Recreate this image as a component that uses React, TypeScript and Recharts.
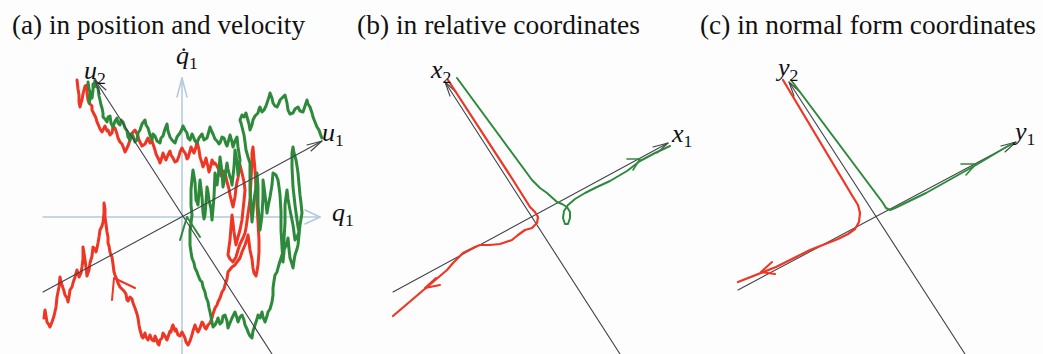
import React from 'react';
import { ScatterChart, Scatter, XAxis, YAxis } from 'recharts';

// ---------- coordinates: origin at each panel's axis crossing, x right, y up ----------
const Y_DOMAIN: [number, number] = [-137, 217];
const X_DOMAIN_A: [number, number] = [-182, 165];
const X_DOMAIN_B: [number, number] = [-185, 163];
const X_DOMAIN_C: [number, number] = [-183, 165];

const RED = '#ee3624';
const GREEN = '#2e8a3b';
const AXIS = '#3f4347';
const LIGHT = '#b2c9dc';

// ---- panel (a): position & velocity ----
const qAxisA = [[-139, 0], [138, 0]];
const qArrowA = [[123, 7], [138, 0], [123, -7]];
const qdotAxisA = [[0, -137], [0, 139]];
const qdotArrowA = [[-5, 120], [0, 139], [5, 120]];
const u1AxisA = [[-139, -75], [140, 76]];
const u1ArrowA = [[129, 66], [140, 76], [125, 72]];
const u2AxisA = [[-87, 137], [90, -137]];
const u2ArrowA = [[-76, 127], [-87, 137], [-82, 123]];

const redA = [
  [-105, 137], [-104, 128], [-103, 122], [-103, 115], [-102, 110], [-101, 114], [-100, 117], [-99, 123],
  [-98, 127], [-97, 131], [-95, 132], [-95, 124], [-94, 117], [-92, 113], [-90, 111], [-90, 107],
  [-89, 105], [-87, 101], [-86, 99], [-85, 95], [-84, 93], [-82, 88], [-80, 85], [-78, 89], [-77, 91],
  [-75, 86], [-74, 87], [-72, 82], [-70, 84], [-69, 90], [-67, 89], [-65, 83], [-64, 79], [-62, 75],
  [-60, 73], [-58, 68], [-57, 65], [-55, 69], [-54, 71], [-52, 77], [-51, 81], [-49, 85], [-47, 87],
  [-45, 83], [-44, 81], [-43, 77], [-42, 75], [-40, 71], [-37, 73], [-35, 77], [-34, 79], [-32, 74],
  [-30, 76], [-28, 70], [-27, 67], [-26, 63], [-25, 61], [-23, 57], [-22, 54], [-20, 60], [-19, 64],
  [-17, 59], [-16, 57], [-14, 62], [-12, 66], [-11, 62], [-9, 59], [-7, 55], [-5, 56], [-3, 61],
  [-2, 65], [0, 69], [1, 67], [3, 64], [4, 62], [5, 58], [6, 59], [8, 66], [9, 70], [11, 66], [12, 64],
  [14, 70], [15, 76], [17, 67], [18, 60], [20, 54], [21, 50], [23, 55], [24, 59], [26, 50], [27, 45],
  [29, 52], [30, 57], [32, 53], [33, 54], [35, 51], [36, 49], [38, 44], [39, 41], [41, 44], [42, 46],
  [44, 40], [45, 35], [47, 28], [48, 22], [50, 14], [51, 10], [53, 20], [54, 29], [55, 35], [56, 39],
  [57, 46], [58, 52], [59, 48], [60, 44], [62, 35], [63, 27], [62, 16], [61, 7], [60, -3], [58, -13],
  [56, -20], [54, -28], [53, -22], [52, -15], [51, -6], [50, 2], [49, -10], [48, -23], [47, -30],
  [46, -38], [48, -42], [51, -45], [54, -40], [56, -33], [58, -27], [61, -21], [63, -16], [64, -11],
  [66, 3], [68, 17], [69, 37], [70, 57], [70, 64], [71, 70], [72, 58], [73, 47], [74, 30], [75, 12],
  [76, -5], [77, -23], [77, -35], [76, -48], [75, -54], [74, -59], [72, -56], [71, -51], [70, -42],
  [68, -33], [67, -25], [66, -18], [65, -22], [63, -28], [60, -35], [58, -41], [55, -45], [53, -48],
  [50, -50], [46, -55], [45, -62], [43, -68], [42, -72], [40, -75], [38, -81], [36, -85], [35, -88],
  [33, -91], [31, -97], [30, -101], [28, -106], [26, -108], [24, -112], [23, -111], [21, -106],
  [20, -105], [18, -111], [16, -115], [14, -111], [13, -108], [11, -114], [10, -118], [8, -124],
  [6, -128], [4, -125], [3, -121], [1, -117], [0, -115], [-2, -119], [-4, -118], [-6, -112], [-7, -114],
  [-9, -108], [-10, -110], [-11, -115], [-12, -114], [-14, -120], [-15, -123], [-17, -119], [-19, -116],
  [-20, -121], [-22, -123], [-23, -128], [-24, -127], [-26, -121], [-27, -119], [-28, -124], [-30, -123],
  [-32, -118], [-34, -123], [-36, -120], [-37, -116], [-39, -121], [-40, -120], [-42, -113], [-43, -108],
  [-44, -101], [-45, -97], [-47, -91], [-49, -86], [-50, -82], [-52, -80], [-54, -84], [-55, -83],
  [-56, -77], [-58, -74], [-60, -72], [-62, -70], [-64, -66], [-65, -63], [-67, -58], [-68, -55],
  [-69, -47], [-70, -40], [-71, -38], [-72, -35], [-73, -29], [-74, -26], [-74, -20], [-75, -15],
  [-76, -7], [-77, 0], [-77, 8], [-78, 14], [-78, 4], [-79, -5], [-80, -9], [-82, -13], [-83, -20],
  [-84, -26], [-85, -31], [-86, -35], [-87, -32], [-89, -30], [-90, -39], [-92, -46], [-93, -53],
  [-95, -59], [-96, -50], [-97, -43], [-98, -36], [-99, -30], [-99, -42], [-100, -50], [-101, -56],
  [-103, -60], [-104, -56], [-105, -53], [-107, -60], [-109, -66], [-110, -70], [-112, -73], [-113, -80],
  [-114, -85], [-115, -81], [-117, -78], [-118, -74], [-119, -71], [-121, -65], [-122, -60], [-123, -70],
  [-125, -80], [-126, -90], [-128, -99], [-130, -105], [-132, -110], [-133, -108], [-135, -105],
  [-136, -99], [-137, -93], [-138, -101],
];
const redArrowA = [[-47, -71], [-68, -61], [-70, -83]];

const greenA = [
  // upper band, left to right
  [-94, 135], [-93, 128], [-92, 125], [-93, 118], [-93, 114], [-91, 121], [-90, 119], [-89, 127],
  [-89, 133], [-88, 130], [-87, 137], [-86, 131], [-84, 129], [-83, 121], [-82, 117], [-81, 112],
  [-80, 109], [-79, 104], [-79, 100], [-77, 98], [-75, 95], [-74, 100], [-72, 101], [-71, 94], [-69, 90],
  [-67, 96], [-65, 99], [-64, 94], [-62, 92], [-61, 97], [-59, 95], [-57, 89], [-55, 86], [-54, 80],
  [-52, 77], [-51, 83], [-49, 81], [-47, 75], [-45, 77], [-44, 84], [-42, 87], [-40, 93], [-37, 97],
  [-36, 92], [-34, 89], [-32, 82], [-30, 77], [-29, 83], [-27, 81], [-25, 76], [-22, 74], [-21, 79],
  [-19, 81], [-17, 88], [-15, 93], [-14, 86], [-12, 80], [-10, 77], [-7, 74], [-5, 80], [-2, 84],
  [0, 88], [1, 91], [3, 87], [5, 84], [6, 79], [8, 77], [10, 83], [11, 81], [13, 76], [15, 74], [17, 79],
  [20, 83], [22, 77], [25, 79], [27, 86], [28, 90], [30, 85], [31, 83], [33, 78], [35, 76], [37, 73],
  [38, 74], [40, 80], [42, 79], [44, 73], [45, 71], [47, 78], [48, 82], [50, 75], [51, 70],
  // middle cluster, going down
  [53, 76], [55, 80], [56, 70], [58, 57], [57, 48], [56, 42], [55, 55], [53, 67], [52, 50], [50, 32],
  [49, 38], [48, 40], [46, 48], [45, 54], [43, 40], [41, 30], [40, 45], [38, 60], [37, 48], [35, 32],
  [34, 38], [33, 44], [32, 20], [30, -3], [29, 8], [27, 17], [26, 25], [25, 30], [24, 15], [23, 2],
  [22, -2], [21, 4], [20, 20], [18, 37], [17, 25], [16, 12], [15, 15], [14, 17], [13, 35], [11, 47],
  [10, 38], [9, 27], [9, 12], [10, 2], [9, -6], [8, -13],
  // large loop: down, along the bottom, up the right side
  [8, -28], [9, -35], [10, -41], [12, -46], [13, -51], [15, -55], [16, -58], [18, -63], [20, -65],
  [21, -70], [23, -75], [24, -80], [26, -85], [27, -91], [28, -95], [29, -100], [30, -105], [31, -110],
  [33, -108], [35, -104], [36, -101], [38, -107], [40, -105], [41, -99], [43, -98], [45, -104],
  [46, -111], [48, -106], [50, -101], [52, -97], [53, -95], [55, -101], [56, -105], [58, -100],
  [60, -98], [62, -103], [63, -108], [65, -112], [66, -115], [68, -119], [70, -121], [71, -114],
  [73, -108], [75, -102], [76, -98], [78, -101], [80, -95], [81, -100], [83, -105], [85, -99], [86, -95],
  [88, -92], [90, -85], [91, -78], [91, -71], [92, -64], [93, -58], [95, -55], [96, -51], [98, -44],
  [100, -38], [101, -34], [103, -31], [105, -26], [106, -21], [107, -32], [108, -41], [110, -47],
  [111, -51], [112, -44], [113, -38], [115, -32], [116, -28], [117, -18], [118, -8], [119, -2], [120, 4],
  [119, 14], [118, 22], [117, 33], [116, 44], [115, 51], [114, 57], [112, 64], [111, 70],
  // inner oscillations and exit towards u1
  [110, 64], [110, 50], [111, 30], [113, 12], [115, -3], [116, -10], [117, -15], [115, -20], [113, -23],
  [111, -8], [108, 7], [106, 18], [105, 27], [104, 20], [103, 12], [103, -5], [102, -23], [102, -35],
  [101, -45], [100, -30], [99, -13], [99, 5], [98, 22], [97, 30], [96, 37], [94, 42], [91, 44], [90, 32],
  [88, 20], [86, 10], [85, 4], [84, 14], [83, 22], [82, 30], [81, 37], [81, 20], [80, 2], [79, -6],
  [78, -13], [77, 0], [76, 12], [76, 30], [75, 44], [74, 30], [72, 17], [71, 5], [70, -5], [69, 10],
  [68, 27], [68, 40], [68, 54], [66, 60], [64, 67], [63, 75], [62, 82], [61, 86], [60, 90], [59, 94],
  [58, 97], [60, 102], [62, 100], [64, 104], [65, 100], [67, 93], [68, 87], [70, 92], [71, 97], [73, 101],
  [76, 104], [77, 108], [78, 110], [80, 105], [82, 107], [84, 111], [85, 114], [87, 120], [88, 124],
  [90, 119], [91, 114], [93, 111], [95, 110], [97, 114], [98, 117], [100, 119], [103, 122], [105, 114],
  [106, 107], [108, 103], [111, 104], [113, 108], [116, 110], [118, 106], [121, 105], [123, 111],
  [125, 117], [126, 113], [128, 110], [130, 104], [131, 100], [133, 95], [135, 90], [137, 87], [138, 84],
  [139, 81], [140, 79],
];
const greenArrowA = [[-2, -23], [5, 0], [18, -20]];

// ---- panel (b): relative coordinates ----
const x2AxisB = [[-87, 135], [88, -137]];
const x2ArrowB = [[-76, 125], [-87, 135], [-82, 121]];
const x1AxisB = [[-139, -75], [136, 74]];
const x1ArrowB = [[125, 64], [136, 74], [121, 70]];
const redB = [
  [-84, 137], [-19, 37], [-2, 10], [3, 5], [6, 0], [5, -6], [0, -11], [-7, -13], [-14, -18],
  [-20, -23], [-32, -27], [-42, -28], [-52, -28], [-57, -30], [-69, -36], [-79, -46], [-85, -53],
  [-139, -99],
];
const redArrowB = [[-96, -61], [-107, -71], [-92, -68]];
const greenB = [
  [-75, 139], [0, 37], [8, 29], [15, 24], [25, 15], [30, 13], [35, 10], [38, 5], [38, -1], [36, -7],
  [33, -7], [31, -1], [32, 6], [36, 12], [43, 18], [53, 24], [65, 30], [78, 36], [95, 46], [108, 56],
  [123, 64], [138, 71],
];
const greenArrowB = [[95, 58], [108, 58], [101, 47]];

// ---- panel (c): normal form coordinates ----
const y2AxisC = [[-89, 135], [87, -137]];
const y2ArrowC = [[-78, 125], [-89, 135], [-84, 121]];
const y1AxisC = [[-140, -73], [138, 75]];
const y1ArrowC = [[127, 65], [138, 75], [123, 71]];
const redC = [
  [-95, 137], [-25, 20], [-20, 12], [-18, 4], [-19, -5], [-23, -12], [-30, -17], [-40, -22],
  [-68, -33], [-102, -50], [-140, -65],
];
const redArrowC = [[-106, -45], [-117, -55], [-103, -57]];
const greenC = [
  [-87, 137], [5, 14], [8, 9], [12, 7], [17, 9], [48, 24], [98, 52], [135, 74],
];
const greenArrowC = [[83, 53], [98, 53], [88, 42]];

// ---------- rendering ----------
type Pt = { x: number; y: number };
const toPts = (a: number[][]): Pt[] => a.map(([x, y]) => ({ x, y }));
const NoShape = () => <g />;

type Series = { data: number[][]; color: string; w: number };

function Panel({ left, xDomain, series }: { left: number; xDomain: [number, number]; series: Series[] }) {
  return (
    <div style={{ position: 'absolute', left, top: 0 }}>
      <ScatterChart
        width={xDomain[1] - xDomain[0]}
        height={354}
        margin={{ top: 0, right: 0, bottom: 0, left: 0 }}
      >
        <XAxis type="number" dataKey="x" domain={xDomain} hide allowDataOverflow />
        <YAxis type="number" dataKey="y" domain={Y_DOMAIN} hide allowDataOverflow />
        {series.map((s, i) => (
          <Scatter
            key={i}
            data={toPts(s.data)}
            fill={s.color}
            line={{ stroke: s.color, strokeWidth: s.w, strokeLinejoin: 'round', strokeLinecap: 'round' }}
            lineType="joint"
            shape={NoShape}
            legendType="none"
            isAnimationActive={false}
          />
        ))}
      </ScatterChart>
    </div>
  );
}

const seriesA: Series[] = [
  { data: qAxisA, color: LIGHT, w: 1.5 },
  { data: qArrowA, color: LIGHT, w: 1.5 },
  { data: qdotAxisA, color: LIGHT, w: 1.5 },
  { data: qdotArrowA, color: LIGHT, w: 1.5 },
  { data: redA, color: RED, w: 3 },
  { data: greenA, color: GREEN, w: 3 },
  { data: u1AxisA, color: AXIS, w: 1.1 },
  { data: u1ArrowA, color: AXIS, w: 1.1 },
  { data: u2AxisA, color: AXIS, w: 1.1 },
  { data: u2ArrowA, color: AXIS, w: 1.1 },
  { data: redArrowA, color: RED, w: 2 },
  { data: greenArrowA, color: GREEN, w: 2 },
];
const seriesB: Series[] = [
  { data: x2AxisB, color: AXIS, w: 1.1 },
  { data: x2ArrowB, color: AXIS, w: 1.1 },
  { data: x1AxisB, color: AXIS, w: 1.1 },
  { data: x1ArrowB, color: AXIS, w: 1.1 },
  { data: redB, color: RED, w: 2.2 },
  { data: redArrowB, color: RED, w: 2 },
  { data: greenB, color: GREEN, w: 2 },
  { data: greenArrowB, color: GREEN, w: 1.6 },
];
const seriesC: Series[] = [
  { data: y2AxisC, color: AXIS, w: 1.1 },
  { data: y2ArrowC, color: AXIS, w: 1.1 },
  { data: y1AxisC, color: AXIS, w: 1.1 },
  { data: y1ArrowC, color: AXIS, w: 1.1 },
  { data: redC, color: RED, w: 2.2 },
  { data: redArrowC, color: RED, w: 2 },
  { data: greenC, color: GREEN, w: 2 },
  { data: greenArrowC, color: GREEN, w: 1.6 },
];

const SERIF = '"Liberation Serif", "Times New Roman", Times, serif';
const txt = { fontFamily: SERIF } as React.CSSProperties;

function VarLabel({ x, y, v, sub, size = 26 }: { x: number; y: number; v: string; sub: string; size?: number }) {
  return (
    <text x={x} y={y} fontSize={size} fill="#111" style={txt}>
      <tspan fontStyle="italic">{v}</tspan>
      <tspan fontSize={size * 0.68} dy={5}>{sub}</tspan>
    </text>
  );
}

export default function App() {
  return (
    <div style={{ position: 'absolute', left: 0, top: 0, width: 1043, height: 354, background: '#fdfdfe', overflow: 'hidden' }}>
      <Panel left={0} xDomain={X_DOMAIN_A} series={seriesA} />
      <Panel left={347} xDomain={X_DOMAIN_B} series={seriesB} />
      <Panel left={695} xDomain={X_DOMAIN_C} series={seriesC} />
      <svg width={1043} height={354} style={{ position: 'absolute', left: 0, top: 0, pointerEvents: 'none' }}>
        <text x={12} y={34} fontSize={27.5} textLength={293} lengthAdjust="spacingAndGlyphs" fill="#111" style={txt}>(a) in position and velocity</text>
        <text x={357} y={34} fontSize={27.5} textLength={283} lengthAdjust="spacingAndGlyphs" fill="#111" style={txt}>(b) in relative coordinates</text>
        <text x={700} y={34} fontSize={27.5} textLength={336} lengthAdjust="spacingAndGlyphs" fill="#111" style={txt}>(c) in normal form coordinates</text>

        <VarLabel x={84} y={79} v="u" sub="2" />
        <VarLabel x={176} y={64} v={'q\u0307'} sub="1" />
        <VarLabel x={332} y={221} v="q" sub="1" />
        <VarLabel x={322} y={141} v="u" sub="1" />

        <VarLabel x={431} y={78} v="x" sub="2" />
        <VarLabel x={672} y={142} v="x" sub="1" />

        <VarLabel x={778} y={76} v="y" sub="2" />
        <VarLabel x={1015} y={140} v="y" sub="1" />
      </svg>
    </div>
  );
}
